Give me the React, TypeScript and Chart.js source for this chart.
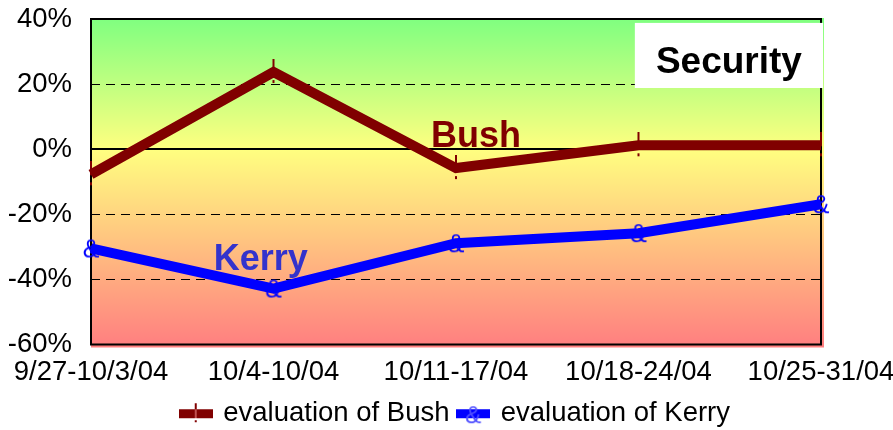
import React, { useEffect, useRef } from "react";
import { Chart, registerables } from "chart.js";

Chart.register(...registerables);

const categories = ["9/27-10/3/04", "10/4-10/04", "10/11-17/04", "10/18-24/04", "10/25-31/04"];
const bushValues = [-7.7, 23.7, -5.8, 1.2, 1.2];
const kerryValues = [-30.5, -42.8, -28.9, -25.8, -16.9];
const seriesNames = ["evaluation of Bush", "evaluation of Kerry"];
const yMin = -60;
const yMax = 40;
const yStep = 20;
const dashedGrid = [-40, -20, 20];
const titleText = "Security";
const bushLabel = { text: "Bush", x: 2.11, y: 0.6 };
const kerryLabel = { text: "Kerry", x: 0.93, y: -37.2 };

const BUSH = "#800000";
const KERRY = "#0000ff";
const FONT = "'Liberation Sans', Arial, sans-serif";
const TICK_SIZE = 27.5;

function bushMarker(): HTMLCanvasElement {
  const c = document.createElement("canvas");
  c.width = 4;
  c.height = 26;
  const ctx = c.getContext("2d")!;
  ctx.fillStyle = BUSH;
  ctx.fillRect(1, 0, 2, 14);
  ctx.fillRect(1, 21, 2, 3);
  return c;
}

function kerryMarker(): HTMLCanvasElement {
  const c = document.createElement("canvas");
  c.width = 24;
  c.height = 28;
  const ctx = c.getContext("2d")!;
  ctx.fillStyle = KERRY;
  ctx.font = `25px ${FONT}`;
  ctx.textAlign = "center";
  ctx.textBaseline = "middle";
  ctx.fillText("&", 12, 16);
  return c;
}

function legendSwatch(kind: "bush" | "kerry"): HTMLCanvasElement {
  const c = document.createElement("canvas");
  c.width = 34;
  c.height = 28;
  const ctx = c.getContext("2d")!;
  if (kind === "bush") {
    ctx.fillStyle = BUSH;
    ctx.fillRect(0, 10, 34, 9);
    ctx.fillRect(16, 4, 2, 6);
    ctx.fillStyle = "#c05050";
    ctx.fillRect(16, 10, 2, 9);
    ctx.fillStyle = BUSH;
    ctx.fillRect(16, 21, 2, 2);
  } else {
    ctx.fillStyle = KERRY;
    ctx.fillRect(0, 10, 34, 9);
    ctx.fillStyle = "#5050ff";
    ctx.font = `24px ${FONT}`;
    ctx.textAlign = "center";
    ctx.textBaseline = "middle";
    ctx.fillText("&", 17, 17);
  }
  return c;
}

const decorPlugin = {
  id: "decor",
  beforeDatasetsDraw(chart: any) {
    const { ctx, chartArea: a, scales } = chart;
    const y = scales.y;
    ctx.save();
    const g = ctx.createLinearGradient(0, a.top, 0, a.bottom);
    g.addColorStop(0, "#80ff80");
    g.addColorStop(0.4, "#ffff80");
    g.addColorStop(1, "#ff8080");
    ctx.fillStyle = g;
    ctx.fillRect(a.left, a.top - 1, a.right - a.left + 3, a.bottom - a.top + 4);

    ctx.strokeStyle = "#000";
    ctx.lineWidth = 1;
    ctx.setLineDash([9, 6]);
    dashedGrid.forEach((v) => {
      const py = Math.round(y.getPixelForValue(v)) + 0.5;
      ctx.beginPath();
      ctx.moveTo(a.left, py);
      ctx.lineTo(a.right, py);
      ctx.stroke();
    });
    ctx.setLineDash([]);
    ctx.lineWidth = 2;
    const zy = Math.round(y.getPixelForValue(0));
    ctx.beginPath();
    ctx.moveTo(a.left, zy);
    ctx.lineTo(a.right, zy);
    ctx.stroke();
    ctx.strokeRect(a.left, a.top, a.right - a.left, a.bottom - a.top);
    ctx.restore();
  },
  afterDatasetsDraw(chart: any) {
    const { ctx, chartArea: a, scales } = chart;
    const x = scales.x;
    const y = scales.y;
    ctx.save();
    const bx0 = x.getPixelForValue(2.98);
    const by0 = y.getPixelForValue(38.8);
    const by1 = y.getPixelForValue(18.8);
    ctx.fillStyle = "#ffffff";
    ctx.fillRect(bx0, by0, a.right + 2 - bx0, by1 - by0);
    ctx.fillStyle = "#000";
    ctx.font = `bold 37px ${FONT}`;
    ctx.textAlign = "center";
    ctx.textBaseline = "alphabetic";
    ctx.fillText(titleText, (bx0 + a.right) / 2 + 1, y.getPixelForValue(23.5));

    ctx.font = `bold 36px ${FONT}`;
    ctx.fillStyle = BUSH;
    ctx.fillText(bushLabel.text, x.getPixelForValue(bushLabel.x), y.getPixelForValue(bushLabel.y));
    ctx.fillStyle = "#3333cc";
    ctx.fillText(kerryLabel.text, x.getPixelForValue(kerryLabel.x), y.getPixelForValue(kerryLabel.y));
    ctx.restore();
  },
};

export default function App() {
  const ref = useRef<HTMLCanvasElement | null>(null);
  useEffect(() => {
    document.body.style.margin = "0";
    const bm = bushMarker();
    const km = kerryMarker();
    const swatches = [legendSwatch("bush"), legendSwatch("kerry")];
    const chart = new Chart(ref.current!, {
      type: "line",
      data: {
        labels: categories,
        datasets: [
          {
            label: seriesNames[0],
            data: bushValues,
            borderColor: BUSH,
            backgroundColor: BUSH,
            borderWidth: 10,
            pointStyle: bm as any,
            pointRadius: 8,
            tension: 0,
          },
          {
            label: seriesNames[1],
            data: kerryValues,
            borderColor: KERRY,
            backgroundColor: KERRY,
            borderWidth: 10,
            pointStyle: km as any,
            pointRadius: 8,
            tension: 0,
          },
        ],
      },
      options: {
        responsive: false,
        animation: false,
        layout: { padding: { left: 0, top: 19, right: 0, bottom: -7 } },
        plugins: {
          tooltip: { enabled: false },
          legend: {
            position: "bottom",
            fullSize: false,
            labels: {
              usePointStyle: true,
              boxWidth: 28,
              padding: 10,
              color: "#000",
              font: { family: FONT, size: TICK_SIZE },
              generateLabels: (c: any) =>
                c.data.datasets.map((d: any, i: number) => ({
                  text: d.label,
                  pointStyle: swatches[i],
                  fillStyle: d.borderColor,
                  strokeStyle: d.borderColor,
                  lineWidth: 0,
                  datasetIndex: i,
                  hidden: false,
                  fontColor: "#000",
                })),
            },
          },
        },
        scales: {
          x: {
            type: "category",
            offset: false,
            grid: { display: false, drawTicks: false },
            border: { display: false },
            ticks: {
              color: "#000",
              font: { family: FONT, size: TICK_SIZE },
              maxRotation: 0,
              autoSkip: false,
              padding: 11,
            },
            afterFit: (s: any) => {
              s.height = 45;
              s.paddingLeft = 0;
              s.paddingRight = 72;
            },
          },
          y: {
            min: yMin,
            max: yMax,
            grid: { display: false, drawTicks: false },
            border: { display: false },
            ticks: {
              stepSize: yStep,
              color: "#000",
              font: { family: FONT, size: TICK_SIZE },
              padding: 19,
              callback: (v: any) => `${v}%`,
            },
            afterFit: (s: any) => {
              s.width = 91;
              s.paddingTop = 0;
              s.paddingBottom = 0;
            },
          },
        },
      },
      plugins: [decorPlugin],
    });
    return () => chart.destroy();
  }, []);
  return (
    <div style={{ width: 893, height: 430 }}>
      <canvas ref={ref} width={893} height={430} style={{ display: "block" }} />
    </div>
  );
}
